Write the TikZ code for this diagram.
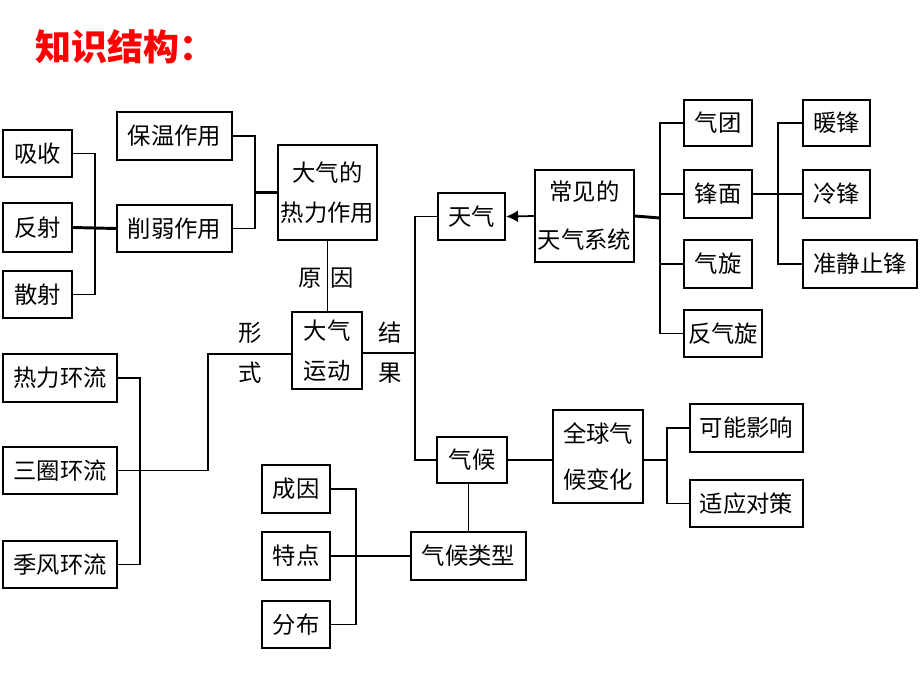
\documentclass[tikz,border=0pt]{standalone}
\usepackage{fontspec}
\newfontfamily\cjk{Noto Sans CJK SC}
\usetikzlibrary{arrows.meta}

\begin{document}
\begin{tikzpicture}[x=0.75pt, y=-0.75pt, font=\cjk]

        \useasboundingbox (0, 0) rectangle (920, 690);

        % Setup the styles for the boxes and the lines
        \tikzset{box/.style={draw,
                             line width=1.6pt,
                             inner sep=0pt,
                             align=center,
                             font=\cjk\fontsize{17.5}{30}\selectfont},
                 size/.style 2 args={minimum width=#1*0.75pt,
                                     minimum height=#2*0.75pt},
                 side text/.style={font=\cjk\fontsize{17.5}{20}\selectfont},
                 link/.style={line width=1.3pt},
                 thick link/.style={line width=2.2pt}}

        % Title
        \node[anchor=west, text=red, font=\cjk\bfseries\fontsize{27}{30}\selectfont]
            at (31, 47) (title) {知识结构：};

        % Draw the boxes
        \node[box, size={69}{47}]  at (37.5, 153.5) (xishou)    {吸收};
        \node[box, size={69}{49}]  at (37.5, 227.5) (fanshe)    {反射};
        \node[box, size={69}{47}]  at (37.5, 294.5) (sanshe)    {散射};
        \node[box, size={115}{48}] at (174.5, 136)  (baowen)    {保温作用};
        \node[box, size={115}{47}] at (174.5, 228.5) (xueruo)   {削弱作用};
        \node[box, size={99}{95}]  at (327.5, 192.5) (relizy)   {大气的\\热力作用};
        \node[box, size={70}{77}]  at (327, 350.5)  (daqiyd)    {大气\\运动};
        \node[box, size={114}{48}] at (60, 378)     (relihl)    {热力环流};
        \node[box, size={114}{47}] at (60, 470.5)   (sanquan)   {三圈环流};
        \node[box, size={114}{47}] at (60, 564.5)   (jifeng)    {季风环流};
        \node[box, size={67}{47}]  at (471.5, 216.5) (tianqi)   {天气};
        \node[box, size={99}{92}]  at (584.5, 216)  (changjian) {常见的\\[6pt]天气系统};
        \node[box, size={68}{46}]  at (718, 123)    (qituan)    {气团};
        \node[box, size={68}{48}]  at (718, 194)    (fengmian)  {锋面};
        \node[box, size={68}{48}]  at (718, 264)    (qixuan)    {气旋};
        \node[box, size={78}{47}]  at (723, 333.5)  (fanqixuan) {反气旋};
        \node[box, size={67}{46}]  at (836.5, 123)  (nuanfeng)  {暖锋};
        \node[box, size={67}{48}]  at (836.5, 194)  (lengfeng)  {冷锋};
        \node[box, size={114}{48}] at (860, 264)    (zhunjing)  {准静止锋};
        \node[box, size={70}{46}]  at (472, 460)    (qihou)     {气候};
        \node[box, size={90}{93}]  at (598, 456.5)  (quanqiu)   {全球气\\[4pt]候变化};
        \node[box, size={113}{48}] at (746.5, 428)  (keneng)    {可能影响};
        \node[box, size={113}{47}] at (746.5, 503.5) (shiying)  {适应对策};
        \node[box, size={115}{48}] at (468.5, 556)  (qhlx)      {气候类型};
        \node[box, size={68}{48}]  at (296, 489)    (chengyin)  {成因};
        \node[box, size={68}{48}]  at (296, 556)    (tedian)    {特点};
        \node[box, size={68}{47}]  at (296, 624.5)  (fenbu)     {分布};

        % Texts beside the lines
        \node[side text] at (310, 278) (yuan)  {原};
        \node[side text] at (342, 278) (yin)   {因};
        \node[side text] at (250, 333) (xing)  {形};
        \node[side text] at (250, 373) (shi)   {式};
        \node[side text] at (390, 333) (jie)   {结};
        \node[side text] at (390, 373) (guo)   {果};

        % Junctions of the lines
        \coordinate (jA) at (95, 227.5);
        \coordinate (jB) at (255, 192.5);
        \coordinate (jC) at (208, 354);
        \coordinate (jD) at (140, 470.5);
        \coordinate (jE) at (415, 353);
        \coordinate (jF) at (660, 218);
        \coordinate (jG) at (778, 194);
        \coordinate (jH) at (667, 460);
        \coordinate (jI) at (356, 556);

        % Connect the boxes
        \draw[link] (xishou.east) -| (jA) |- (sanshe.east);
        \draw[thick link] (fanshe.east) -- (xueruo.west);
        \draw[link] (baowen.east) -| (jB) |- (xueruo.east);
        \draw[thick link] (jB) -- (relizy.west);
        \draw[link] (relizy.south) -- (relizy.south |- daqiyd.north);

        \draw[link] (daqiyd.west |- jC) -- (jC) |- (sanquan.east);
        \draw[link] (relihl.east) -| (jD) |- (jifeng.east);

        \draw[link] (daqiyd.east |- jE) -- (jE);
        \draw[link] (tianqi.west) -| (jE) |- (qihou.west);
        \draw[link, -{Latex[length=9pt, width=9pt]}] (changjian.west) -- (tianqi.east);

        \draw[thick link] (changjian.east) -- (jF);
        \draw[link] (qituan.west) -| (jF) |- (fanqixuan.west);
        \draw[link] (fengmian.west) -- (fengmian.west -| jF);
        \draw[link] (qixuan.west) -- (qixuan.west -| jF);

        \draw[thick link] (fengmian.east) -- (lengfeng.west);
        \draw[link] (nuanfeng.west) -| (jG) |- (zhunjing.west);

        \draw[link] (qihou.east) -- (qihou.east -| quanqiu.west);
        \draw[link] (quanqiu.east |- jH) -- (jH);
        \draw[link] (keneng.west) -| (jH) |- (shiying.west);

        \draw[link] (qhlx.north) -- (qhlx.north |- qihou.south);
        \draw[link] (chengyin.east) -| (jI) |- (fenbu.east);
        \draw[link] (tedian.east) -- (qhlx.west);

\end{tikzpicture}
\end{document}
